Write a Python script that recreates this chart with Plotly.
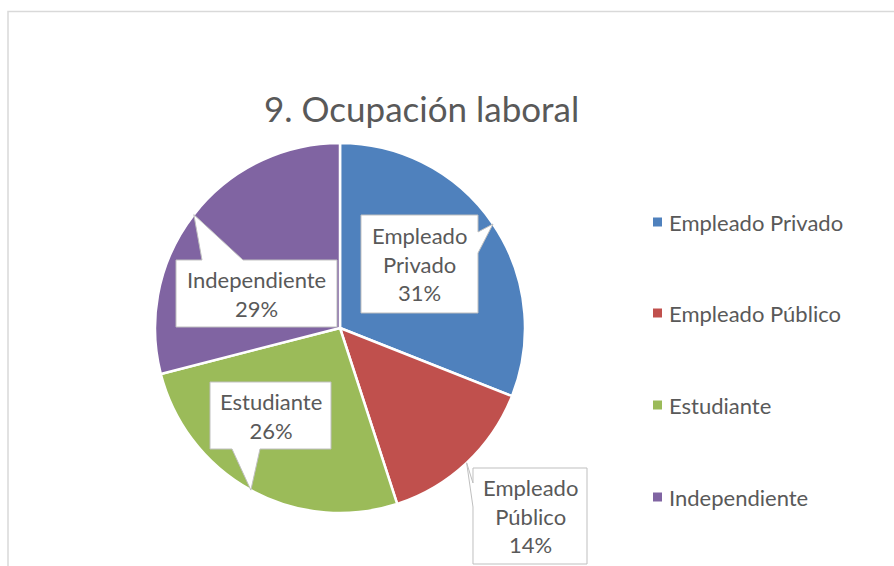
import math
import plotly.graph_objects as go

W, H = 894, 566

# ---- data ----
categories = ["Empleado Privado", "Empleado Público", "Estudiante", "Independiente"]
values = [31, 14, 26, 29]
label_lines = ["Empleado<br>Privado", "Empleado<br>Público", "Estudiante", "Independiente"]
colors = ["#4F81BD", "#C0504D", "#9BBB59", "#8064A2"]
title_text = "9. Ocupación laboral"

FONT = "Lato"
TXT = "#595959"


def px(x):
    return x / W


def py(y):
    return 1 - y / H


# pie geometry (pixels)
cx, cy, R = 340, 328, 185

fig = go.Figure(
    go.Pie(
        labels=categories,
        values=values,
        sort=False,
        direction="clockwise",
        rotation=0,
        marker=dict(colors=colors, line=dict(color="white", width=2.5)),
        textinfo="none",
        hoverinfo="label+percent",
        showlegend=False,
        domain=dict(x=[px(cx - R), px(cx + R)], y=[py(cy + R), py(cy - R)]),
    )
)

# callout boxes layout: (x0, y0, x1, y1, pointer side, base start, base end)
callouts = [
    (361, 215, 478, 313, "right", 232, 253),
    (473, 468, 587, 564, "left", 483, 507),
    (210, 382, 331, 449, "bottom", 232, 260),
    (176, 260, 337, 327, "top", 202, 243),
]

total = sum(values)
cum = 0
shapes = []
annotations = []
for i, v in enumerate(values):
    mid = (cum + v / 2) / total * 2 * math.pi
    cum += v
    tx = cx + R * math.sin(mid)
    ty = cy - R * math.cos(mid)
    x0, y0, x1, y1, side, b0, b1 = callouts[i]
    pts = [(x0, y0)]
    if side == "top":
        pts += [(b0, y0), (tx, ty), (b1, y0)]
    pts.append((x1, y0))
    if side == "right":
        pts += [(x1, b0), (tx, ty), (x1, b1)]
    pts.append((x1, y1))
    if side == "bottom":
        pts += [(b1, y1), (tx, ty), (b0, y1)]
    pts.append((x0, y1))
    if side == "left":
        pts += [(x0, b1), (tx, ty), (x0, b0)]
    path = "M " + " L ".join(f"{px(a):.5f},{py(b):.5f}" for a, b in pts) + " Z"
    shapes.append(
        dict(type="path", path=path, xref="paper", yref="paper",
             fillcolor="white", line=dict(color="#BFBFBF", width=1), layer="above")
    )
    pct = round(v / total * 100)
    annotations.append(
        dict(x=px((x0 + x1) / 2), y=py((y0 + y1) / 2), xref="paper", yref="paper",
             text=f"{label_lines[i]}<br>{pct}%", showarrow=False,
             xanchor="center", yanchor="middle",
             font=dict(family=FONT, size=22, color=TXT))
    )

# legend (manual)
leg_y = [222, 313, 405, 497]
for i, cat in enumerate(categories):
    y = leg_y[i]
    shapes.append(
        dict(type="rect", xref="paper", yref="paper",
             x0=px(653), x1=px(662), y0=py(y + 4.5), y1=py(y - 4.5),
             fillcolor=colors[i], line=dict(width=0))
    )
    annotations.append(
        dict(x=px(667), y=py(y), xref="paper", yref="paper", text=cat,
             showarrow=False, xanchor="left", yanchor="middle",
             font=dict(family=FONT, size=22, color=TXT))
    )

# title
annotations.append(
    dict(x=px(421), y=py(108), xref="paper", yref="paper", text=title_text,
         showarrow=False, xanchor="center", yanchor="middle",
         font=dict(family=FONT, size=35, color=TXT))
)

# chart frame
shapes.append(
    dict(type="rect", xref="paper", yref="paper",
         x0=px(8), x1=px(W + 10), y0=py(H + 10), y1=py(11.5),
         line=dict(color="#D9D9D9", width=1.5), fillcolor="rgba(0,0,0,0)")
)

fig.update_layout(
    width=W, height=H, autosize=False,
    margin=dict(l=0, r=0, t=0, b=0),
    paper_bgcolor="white", plot_bgcolor="white",
    shapes=shapes, annotations=annotations,
    font=dict(family=FONT, color=TXT),
)

fig.write_html(
    "out.html",
    config={"displayModeBar": False},
    post_script="document.body.style.margin='0';document.body.style.overflow='hidden';",
)
